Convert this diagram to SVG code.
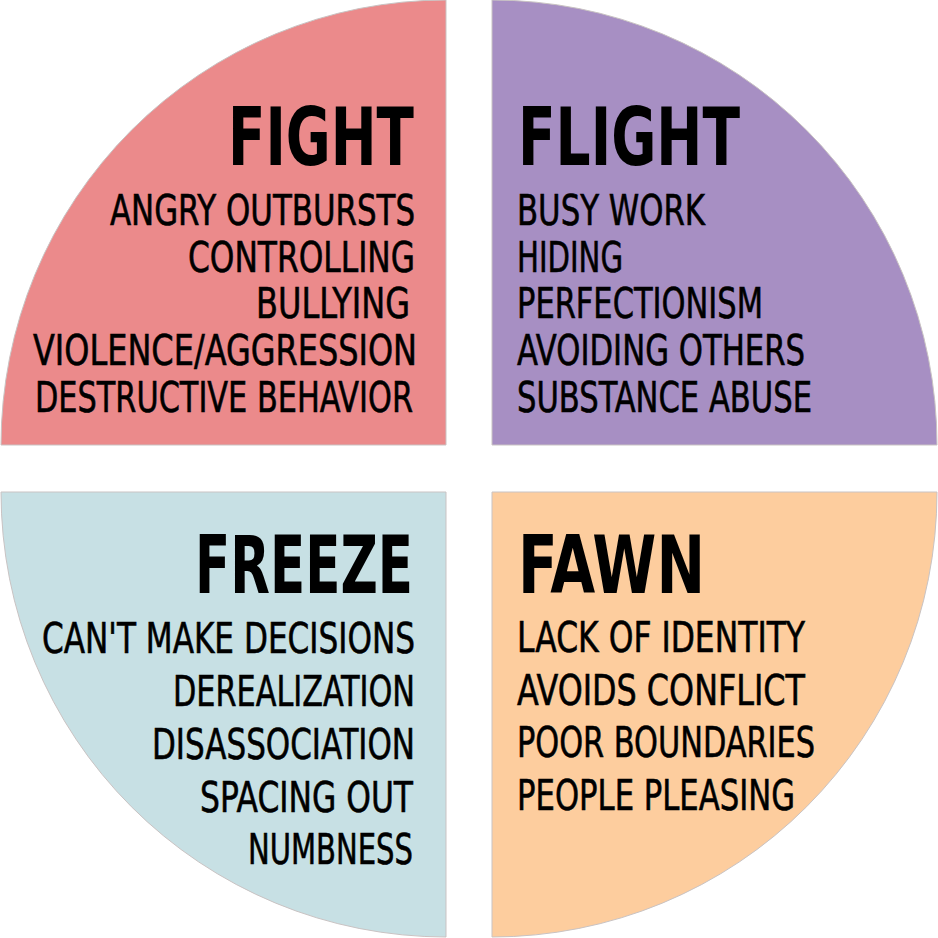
<svg xmlns="http://www.w3.org/2000/svg" width="938" height="938" viewBox="0 0 938 938">
  <style>
    .q { stroke: #c9c3c3; stroke-width: 1; }
    .title { font-family: "Liberation Sans Narrow", "DejaVu Sans Condensed", "Liberation Sans", sans-serif; font-weight: bold; font-size: 80px; fill: #000; }
    .item { font-family: "Liberation Sans Narrow", "DejaVu Sans Condensed", "Liberation Sans", sans-serif; font-size: 43px; fill: #000; stroke: #000; stroke-width: 0.6; }
    .r { text-anchor: end; }
    .l { text-anchor: start; }
  </style>
  <rect width="938" height="938" fill="#ffffff"/>

  <g id="fight">
    <path class="q" d="M446,445 L1,445 A445,445 0 0 1 446,0 Z" fill="#EB8A8B"/>
    <text class="title r" x="414" y="165" textLength="186" lengthAdjust="spacingAndGlyphs">FIGHT</text>
    <text class="item r" x="415" y="225" textLength="305" lengthAdjust="spacingAndGlyphs">ANGRY OUTBURSTS</text>
    <text class="item r" x="415" y="272" textLength="227" lengthAdjust="spacingAndGlyphs">CONTROLLING</text>
    <text class="item r" x="410" y="318" textLength="154" lengthAdjust="spacingAndGlyphs">BULLYING</text>
    <text class="item r" x="417" y="365" textLength="384" lengthAdjust="spacingAndGlyphs">VIOLENCE/AGGRESSION</text>
    <text class="item r" x="413" y="412" textLength="378" lengthAdjust="spacingAndGlyphs">DESTRUCTIVE BEHAVIOR</text>
  </g>

  <g id="flight">
    <path class="q" d="M492,445 L492,0 A445,445 0 0 1 937,445 Z" fill="#A78FC3"/>
    <text class="title l" x="518" y="165" textLength="222" lengthAdjust="spacingAndGlyphs">FLIGHT</text>
    <text class="item l" x="517" y="225" textLength="188" lengthAdjust="spacingAndGlyphs">BUSY WORK</text>
    <text class="item l" x="517" y="272" textLength="106" lengthAdjust="spacingAndGlyphs">HIDING</text>
    <text class="item l" x="517" y="318" textLength="246" lengthAdjust="spacingAndGlyphs">PERFECTIONISM</text>
    <text class="item l" x="517" y="365" textLength="288" lengthAdjust="spacingAndGlyphs">AVOIDING OTHERS</text>
    <text class="item l" x="517" y="412" textLength="295" lengthAdjust="spacingAndGlyphs">SUBSTANCE ABUSE</text>
  </g>

  <g id="freeze">
    <path class="q" d="M446,492 L446,937 A445,445 0 0 1 1,492 Z" fill="#C7E0E4"/>
    <text class="title r" x="413" y="593" textLength="218" lengthAdjust="spacingAndGlyphs">FREEZE</text>
    <text class="item r" x="415" y="653" textLength="373" lengthAdjust="spacingAndGlyphs">CAN'T MAKE DECISIONS</text>
    <text class="item r" x="415" y="706" textLength="242" lengthAdjust="spacingAndGlyphs">DEREALIZATION</text>
    <text class="item r" x="415" y="759" textLength="263" lengthAdjust="spacingAndGlyphs">DISASSOCIATION</text>
    <text class="item r" x="413" y="812" textLength="213" lengthAdjust="spacingAndGlyphs">SPACING OUT</text>
    <text class="item r" x="413" y="864" textLength="165" lengthAdjust="spacingAndGlyphs">NUMBNESS</text>
  </g>

  <g id="fawn">
    <path class="q" d="M492,492 L937,492 A445,445 0 0 1 492,937 Z" fill="#FDCD9E"/>
    <text class="title l" x="518" y="593" textLength="187" lengthAdjust="spacingAndGlyphs">FAWN</text>
    <text class="item l" x="517" y="652" textLength="288" lengthAdjust="spacingAndGlyphs">LACK OF IDENTITY</text>
    <text class="item l" x="517" y="705" textLength="288" lengthAdjust="spacingAndGlyphs">AVOIDS CONFLICT</text>
    <text class="item l" x="517" y="757" textLength="298" lengthAdjust="spacingAndGlyphs">POOR BOUNDARIES</text>
    <text class="item l" x="517" y="810" textLength="278" lengthAdjust="spacingAndGlyphs">PEOPLE PLEASING</text>
  </g>

  <g id="connectors"/>
</svg>
